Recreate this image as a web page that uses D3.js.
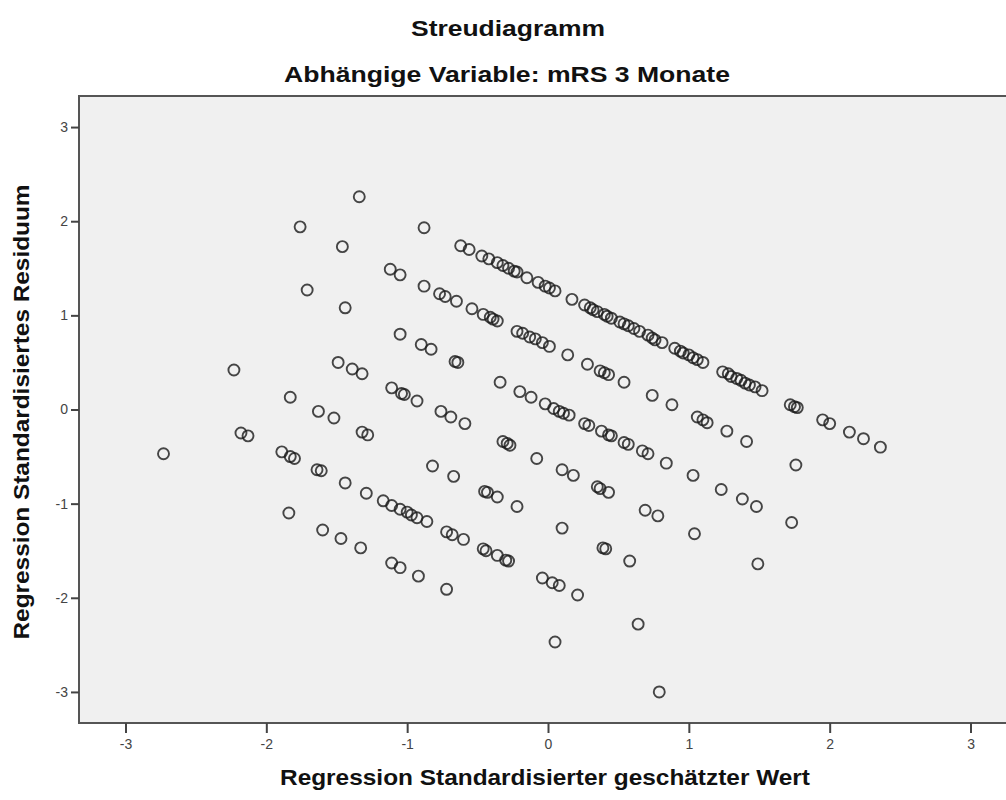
<!DOCTYPE html>
<html>
<head>
<meta charset="utf-8">
<script src="https://cdn.jsdelivr.net/npm/d3@7"></script>
<style>
  body { margin: 0; background: #fff; }
  svg { display: block; font-family: Arial, "Liberation Sans", sans-serif; }
</style>
</head>
<body>
<svg width="1006" height="800"></svg>
<script>
// [standardized predicted value, standardized residual], one array per mRS level (band)
var band0 = [[-1.34,2.26],[-0.88,1.93],[-0.62,1.74],[-0.56,1.70],[-0.47,1.63],[-0.42,1.60],[-0.36,1.56],[-0.32,1.53],
  [-0.28,1.50],[-0.24,1.47],[-0.22,1.46],[-0.15,1.40],[-0.07,1.35],[-0.02,1.31],[0.01,1.29],[0.05,1.26],[0.17,1.17],
  [0.26,1.11],[0.30,1.08],[0.32,1.06],[0.35,1.04],[0.40,1.01],[0.42,0.99],[0.45,0.97],[0.51,0.93],[0.54,0.91],
  [0.57,0.89],[0.61,0.86],[0.65,0.83],[0.71,0.79],[0.74,0.76],[0.76,0.74],[0.81,0.71],[0.90,0.65],[0.94,0.62],
  [0.96,0.60],[1.00,0.58],[1.03,0.55],[1.06,0.53],[1.10,0.50],[1.24,0.40],[1.28,0.38],[1.30,0.35],[1.34,0.33],
  [1.37,0.31],[1.40,0.28],[1.43,0.26],[1.47,0.24],[1.52,0.20],[1.72,0.05],[1.75,0.03],[1.77,0.02],[1.95,-0.11],
  [2.00,-0.15],[2.14,-0.24],[2.24,-0.31],[2.36,-0.40]];
var band1 = [[-1.76,1.94],[-1.46,1.73],[-1.12,1.49],[-1.05,1.43],[-0.88,1.31],[-0.77,1.23],[-0.73,1.20],[-0.65,1.15],
  [-0.54,1.07],[-0.46,1.01],[-0.41,0.98],[-0.39,0.96],[-0.36,0.94],[-0.22,0.83],[-0.18,0.81],[-0.13,0.77],[-0.09,0.75],
  [-0.04,0.71],[0.01,0.67],[0.14,0.58],[0.28,0.48],[0.37,0.41],[0.40,0.39],[0.43,0.37],[0.54,0.29],[0.74,0.15],
  [0.88,0.05],[1.06,-0.08],[1.10,-0.11],[1.13,-0.14],[1.27,-0.23],[1.41,-0.34],[1.76,-0.59]];
var band2 = [[-1.71,1.27],[-1.44,1.08],[-1.05,0.80],[-0.90,0.69],[-0.83,0.64],[-0.66,0.51],[-0.64,0.50],[-0.34,0.29],
  [-0.20,0.19],[-0.12,0.13],[-0.02,0.06],[0.04,0.01],[0.08,-0.02],[0.11,-0.04],[0.15,-0.06],[0.26,-0.15],[0.29,-0.17],
  [0.38,-0.23],[0.43,-0.27],[0.45,-0.28],[0.54,-0.35],[0.57,-0.37],[0.67,-0.44],[0.71,-0.47],[0.84,-0.57],
  [1.03,-0.70],[1.23,-0.85],[1.38,-0.95],[1.48,-1.03],[1.73,-1.20]];
var band3 = [[-1.49,0.50],[-1.39,0.43],[-1.32,0.38],[-1.11,0.23],[-1.04,0.17],[-1.02,0.16],[-0.93,0.09],[-0.76,-0.02],
  [-0.69,-0.08],[-0.59,-0.15],[-0.32,-0.34],[-0.29,-0.36],[-0.27,-0.38],[-0.08,-0.52],[0.10,-0.64],[0.18,-0.70],
  [0.35,-0.82],[0.37,-0.84],[0.43,-0.88],[0.69,-1.07],[0.78,-1.13],[1.04,-1.32],[1.49,-1.64]];
var band4 = [[-2.23,0.42],[-1.83,0.13],[-1.63,-0.02],[-1.52,-0.09],[-1.32,-0.24],[-1.28,-0.27],[-0.82,-0.60],
  [-0.67,-0.71],[-0.45,-0.87],[-0.43,-0.88],[-0.36,-0.93],[-0.22,-1.03],[0.10,-1.26],[0.39,-1.47],[0.41,-1.48],
  [0.58,-1.61]];
var band5 = [[-2.18,-0.25],[-2.13,-0.28],[-1.89,-0.45],[-1.83,-0.50],[-1.80,-0.52],[-1.64,-0.64],[-1.61,-0.65],
  [-1.44,-0.78],[-1.29,-0.89],[-1.17,-0.97],[-1.11,-1.02],[-1.05,-1.06],[-1.00,-1.09],[-0.97,-1.12],[-0.93,-1.15],
  [-0.86,-1.19],[-0.72,-1.30],[-0.68,-1.33],[-0.60,-1.38],[-0.46,-1.48],[-0.44,-1.50],[-0.36,-1.55],[-0.30,-1.60],
  [-0.28,-1.61],[-0.04,-1.79],[0.03,-1.84],[0.08,-1.87],[0.21,-1.97],[0.64,-2.28]];
var band6 = [[-2.73,-0.47],[-1.84,-1.10],[-1.60,-1.28],[-1.47,-1.37],[-1.33,-1.47],[-1.11,-1.63],[-1.05,-1.68],
  [-0.92,-1.77],[-0.72,-1.91],[0.05,-2.47],[0.79,-3.00]];

var xTicks = [-3, -2, -1, 0, 1, 2, 3],
    yTicks = [-3, -2, -1, 0, 1, 2, 3];

var titleText = 'Streudiagramm',
    subtitleText = 'Abhängige Variable: mRS 3 Monate',
    xLabel = 'Regression Standardisierter geschätzter Wert',
    yLabel = 'Regression Standardisiertes Residuum';

var svg = d3.select('svg');

// plot frame runs past the right edge of the picture, like in the original
var frame = {left: 79, top: 96, right: 1017, bottom: 723};

var x = d3.scaleLinear().domain([-3.33, 3.33]).range([frame.left, frame.right]),
    y = d3.scaleLinear().domain([-3.33, 3.33]).range([frame.bottom, frame.top]);

svg.append('rect')
  .attr('x', frame.left).attr('y', frame.top)
  .attr('width', frame.right - frame.left).attr('height', frame.bottom - frame.top)
  .attr('fill', '#f0f0f0')
  .attr('stroke', '#555')
  .attr('stroke-width', 2);

var xAxis = svg.append('g')
  .attr('transform', 'translate(0,' + frame.bottom + ')')
  .call(d3.axisBottom(x).tickValues(xTicks).tickSize(10).tickPadding(6).tickFormat(function(d){ return String(d); }));

var yAxis = svg.append('g')
  .attr('transform', 'translate(' + frame.left + ',0)')
  .call(d3.axisLeft(y).tickValues(yTicks).tickSize(8).tickPadding(3).tickFormat(function(d){ return String(d); }));

[xAxis, yAxis].forEach(function(g){
  g.select('.domain').remove();
  g.selectAll('line').attr('stroke', '#444').attr('stroke-width', 2);
  g.selectAll('text')
    .attr('fill', '#444')
    .style('font-size', '14px')
    .style('font-family', 'Arial, "Liberation Sans", sans-serif');
});

var points = [].concat(band0, band1, band2, band3, band4, band5, band6);

svg.append('g')
  .selectAll('circle')
  .data(points)
  .enter().append('circle')
    .attr('cx', function(d){ return x(d[0]); })
    .attr('cy', function(d){ return y(d[1]); })
    .attr('r', 5.5)
    .attr('fill', 'none')
    .attr('stroke', '#1a1a1a')
    .attr('stroke-opacity', 0.8)
    .attr('stroke-width', 1.9);

svg.append('text')
  .attr('x', 508).attr('y', 36)
  .attr('text-anchor', 'middle')
  .attr('font-weight', 'bold').attr('font-size', 22)
  .attr('fill', '#111')
  .attr('textLength', 194).attr('lengthAdjust', 'spacingAndGlyphs')
  .text(titleText);

svg.append('text')
  .attr('x', 507).attr('y', 82)
  .attr('text-anchor', 'middle')
  .attr('font-weight', 'bold').attr('font-size', 22)
  .attr('fill', '#111')
  .attr('textLength', 446).attr('lengthAdjust', 'spacingAndGlyphs')
  .text(subtitleText);

svg.append('text')
  .attr('x', 545).attr('y', 785)
  .attr('text-anchor', 'middle')
  .attr('font-weight', 'bold').attr('font-size', 22)
  .attr('fill', '#111')
  .attr('textLength', 530).attr('lengthAdjust', 'spacingAndGlyphs')
  .text(xLabel);

svg.append('text')
  .attr('transform', 'translate(29,412) rotate(-90)')
  .attr('text-anchor', 'middle')
  .attr('font-weight', 'bold').attr('font-size', 22)
  .attr('fill', '#111')
  .attr('textLength', 455).attr('lengthAdjust', 'spacingAndGlyphs')
  .text(yLabel);
</script>
</body>
</html>
